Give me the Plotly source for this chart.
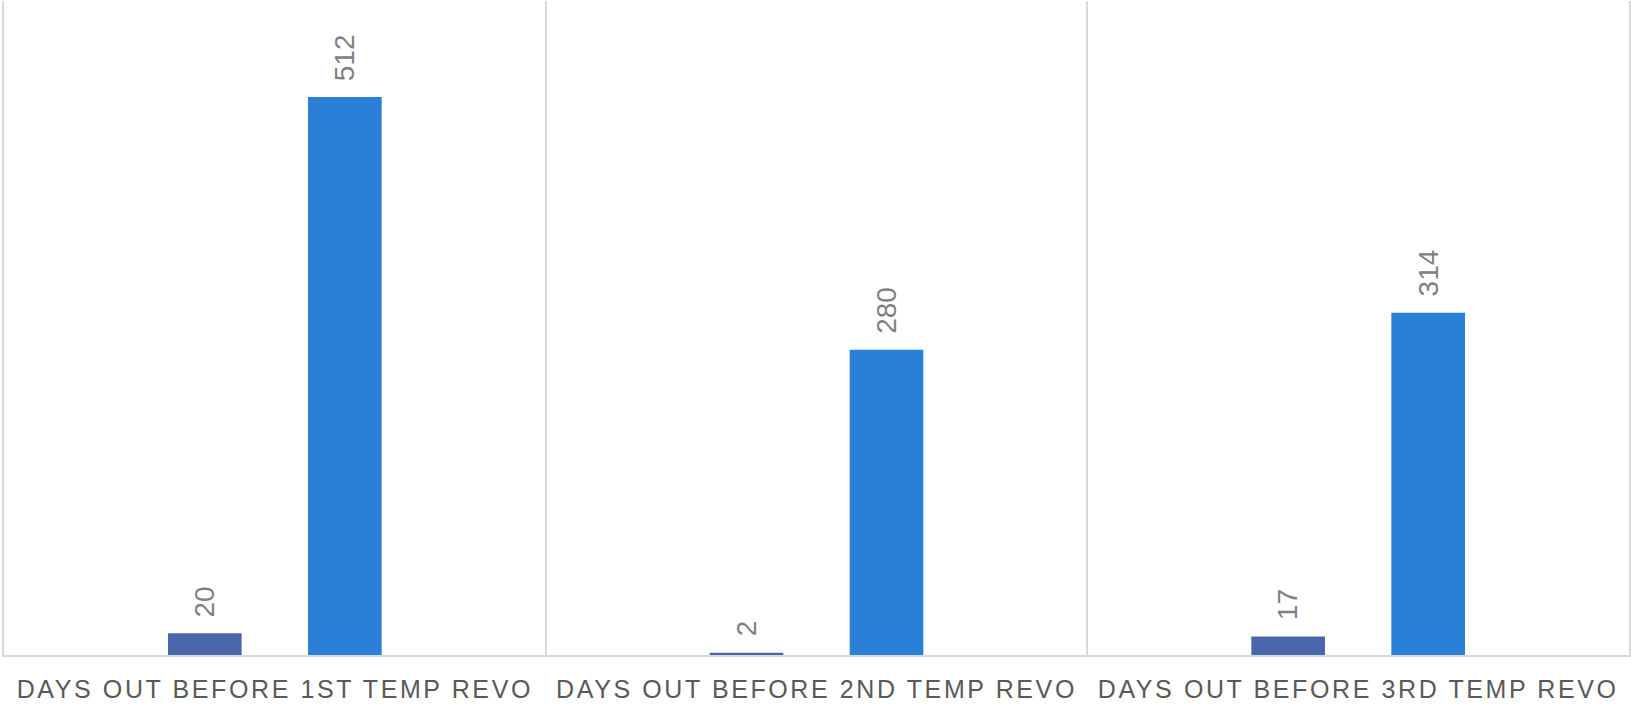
import plotly.graph_objects as go

categories = ["DAYS OUT BEFORE 1ST TEMP REVO", "DAYS OUT BEFORE 2ND TEMP REVO", "DAYS OUT BEFORE 3RD TEMP REVO"]
series_a_name = "Series A"
series_a = [20, 2, 17]
series_b_name = "Series B"
series_b = [512, 280, 314]

color_a = "#4a66ac"
color_b = "#2a7fd6"
grid = "#d9d9d9"

fig = go.Figure()
fig.add_trace(go.Bar(name=series_a_name, x=categories, y=series_a, marker=dict(color=color_a, line=dict(width=0))))
fig.add_trace(go.Bar(name=series_b_name, x=categories, y=series_b, marker=dict(color=color_b, line=dict(width=0))))

label_font = dict(family="Liberation Sans, Arial, sans-serif", size=28, color="#808080")
for vals, shift in ((series_a, -70), (series_b, 70)):
    for c, v in zip(categories, vals):
        fig.add_annotation(x=c, y=v, xref="x", yref="y", text=str(v), showarrow=False,
                           textangle=-90, yanchor="bottom", xanchor="center",
                           xshift=shift, yshift=14, font=label_font)

ticktext = ['<span style="letter-spacing:2.6px">%s</span>' % c for c in categories]

fig.update_layout(
    width=1631, height=705,
    margin=dict(l=4, r=2, t=1, b=50),
    paper_bgcolor="white", plot_bgcolor="white",
    barmode="group", bargap=0.483, bargroupgap=0.474,
    showlegend=False,
    xaxis=dict(type="category", tickmode="array", tickvals=categories, ticktext=ticktext,
               tickson="boundaries", showgrid=True, gridcolor=grid, gridwidth=1.5,
               showline=True, linecolor=grid, linewidth=1.5, ticks="",
               ticklabelstandoff=11,
               tickfont=dict(family="Liberation Sans, Arial, sans-serif", size=25, color="#595959")),
    yaxis=dict(range=[0, 600], showticklabels=False, showgrid=False, zeroline=False,
               showline=True, mirror=True, linecolor=grid, linewidth=1.5, ticks=""),
)

fig.write_html(
    "out.html",
    config={"displayModeBar": False},
    post_script="document.body.style.margin='0';document.body.style.padding='0';document.body.style.overflow='hidden';",
)
